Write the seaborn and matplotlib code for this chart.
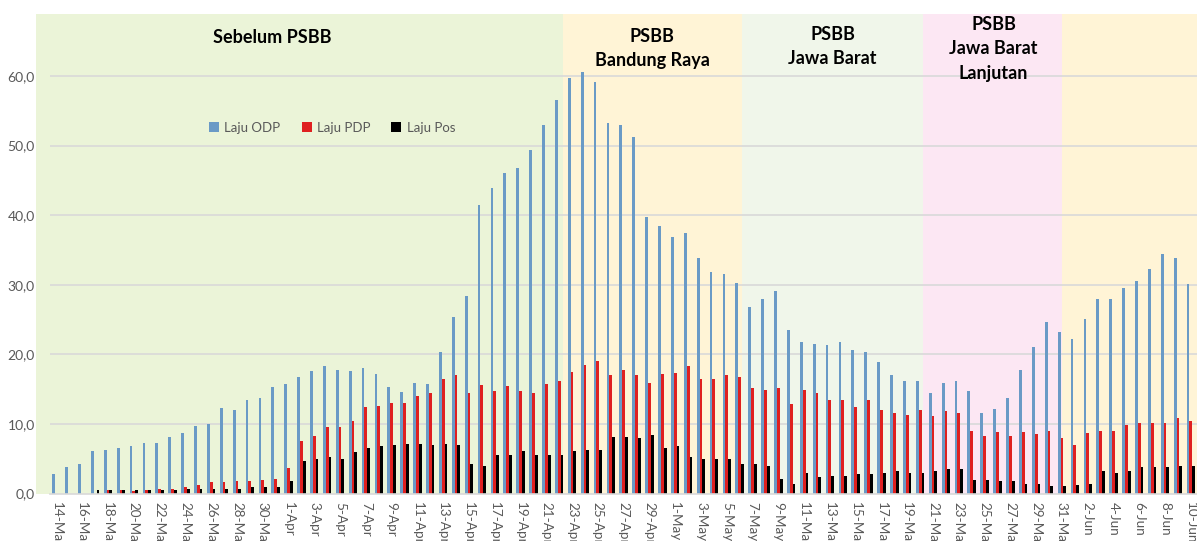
import pandas as pd
import matplotlib
matplotlib.use("Agg")
import matplotlib.pyplot as plt
import seaborn as sns

# tanggal 14 Mar - 10 Jun
months = [("Mar", 14, 31), ("Apr", 1, 30), ("May", 1, 31), ("Jun", 1, 10)]
dates = [f"{d}-{m}" for m, a, b in months for d in range(a, b + 1)]

laju_odp = [2.8, 3.8, 4.2, 6.1, 6.3, 6.6, 6.8, 7.3, 7.3, 8.1, 8.7, 9.7, 10.0, 12.3, 12.0, 13.5, 13.7, 15.3,
            15.7, 16.7, 17.6, 18.3, 17.8, 17.6, 18.0, 17.1, 15.3, 14.6, 15.9, 15.7, 20.3, 25.3, 28.4, 41.5,
            43.9, 46.0, 46.7, 49.3, 52.9, 56.5, 59.7, 60.5, 59.1, 53.3, 52.9, 51.2, 39.7, 38.5,
            36.9, 37.5, 33.9, 31.8, 31.5, 30.3, 26.8, 28.0, 29.1, 23.5, 21.8, 21.5, 21.3, 21.7, 20.6, 20.4,
            18.9, 17.0, 16.1, 16.1, 14.4, 15.9, 16.1, 14.75, 11.6, 12.1, 13.7, 17.8, 21.1, 24.7, 23.2,
            22.2, 25.1, 28.0, 27.9, 29.6, 30.6, 32.3, 34.4, 33.9, 30.1]
laju_pdp = [0, 0, 0, 0, 0.45, 0.45, 0.4, 0.45, 0.65, 0.65, 0.95, 1.25, 1.6, 1.6, 1.8, 1.8, 2.0, 2.15,
            3.6, 7.5, 8.3, 9.5, 9.5, 10.4, 12.5, 12.6, 13.0, 13.0, 14.0, 14.4, 16.4, 17.0, 14.4, 15.6,
            14.75, 15.4, 14.75, 14.4, 15.7, 16.1, 17.5, 18.5, 19.0, 17.0, 17.8, 17.0, 15.9, 17.1,
            17.3, 18.3, 16.4, 16.4, 17.0, 16.8, 15.1, 14.9, 15.1, 12.9, 14.9, 14.4, 13.4, 13.5, 12.5, 13.5,
            12.0, 11.6, 11.3, 12.0, 11.1, 11.8, 11.6, 9.0, 8.3, 8.8, 8.3, 8.8, 8.5, 9.0, 8.0,
            7.0, 8.7, 9.0, 9.0, 9.9, 10.2, 10.2, 10.2, 10.9, 10.4]
laju_pos = [0, 0, 0, 0.45, 0.45, 0.45, 0.45, 0.45, 0.45, 0.45, 0.7, 0.7, 0.7, 0.7, 0.7, 0.9, 0.9, 1.0,
            1.8, 4.6, 4.9, 5.2, 5.0, 5.9, 6.6, 6.8, 6.9, 7.1, 7.1, 6.9, 7.1, 6.9, 4.2, 4.0,
            5.5, 5.5, 6.1, 5.5, 5.5, 5.5, 6.1, 6.2, 6.2, 8.1, 8.1, 7.95, 8.4, 6.6,
            6.8, 5.2, 5.0, 5.0, 4.9, 4.3, 4.2, 4.0, 2.1, 1.4, 3.0, 2.3, 2.5, 2.5, 2.8, 2.8,
            3.0, 3.2, 3.0, 3.0, 3.2, 3.5, 3.5, 1.9, 1.9, 1.8, 1.8, 1.4, 1.4, 1.1, 1.1,
            1.25, 1.4, 3.3, 3.0, 3.3, 3.8, 3.8, 3.8, 4.0, 4.0]

series = ["Laju ODP", "Laju PDP", "Laju Pos"]
colors = ["#5B9BD5", "#FF0000", "#000000"]

# fase PSBB (batas dalam posisi kategori)
phase_labels = ["Sebelum PSBB", "PSBB\nBandung Raya", "PSBB\nJawa Barat", "PSBB\nJawa Barat\nLanjutan"]
phase_edges = [-1.59, 39.28, 53.16, 67.25, 77.98, 88.48]
phase_colors = ["#EBF4D8", "#FFF4D6", "#F0F6EA", "#FCE7F3", "#FFF4D6"]
phase_text_x = [16.7, 46.2, 60.2, 72.7]
phase_text_y = [65.5, 63.9, 64.2, 63.9]

df = pd.DataFrame({"tanggal": dates * 3,
                   "seri": [s for s in series for _ in dates],
                   "nilai": laju_odp + laju_pdp + laju_pos})

sns.set_style("white")
plt.rcParams["font.family"] = ["Lato", "DejaVu Sans"]

fig = plt.figure(figsize=(11.97, 5.41), dpi=100)
ax = fig.add_axes([36 / 1197, 1 - 493.5 / 541, 1 - 36 / 1197, 479.5 / 541])

for i in range(len(phase_colors)):
    ax.axvspan(phase_edges[i], phase_edges[i + 1], color=phase_colors[i], lw=0, zorder=0)

ax.hlines(range(10, 61, 10), -0.5, 88.5, color="#D9D9D9", lw=1.2, zorder=1)

sns.barplot(data=df, x="tanggal", y="nilai", hue="seri", order=dates, hue_order=series,
            palette=colors, width=0.65, linewidth=0, ax=ax, zorder=2)

ax.set_xlim(phase_edges[0], phase_edges[-1])
ax.set_ylim(0, 68.9)
ax.set_xlabel("")
ax.set_ylabel("")
for s in ["top", "right", "left"]:
    ax.spines[s].set_visible(False)
ax.spines["bottom"].set_bounds(-0.5, 88.5)
ax.spines["bottom"].set_color("#D9D9D9")
ax.spines["bottom"].set_linewidth(1.2)

ax.set_yticks(range(0, 61, 10))
ax.set_yticklabels([f"{v},0" for v in range(0, 61, 10)], fontsize=10, color="#595959")
ax.tick_params(axis="y", length=0, pad=1)

ax.set_xticks(range(0, len(dates), 2))
ax.set_xticklabels(dates[::2], rotation=270, fontsize=9.7, color="#595959", ha="center", va="top")
ax.set_xticks([i - 0.5 for i in range(0, len(dates), 2)], minor=True)
ax.tick_params(axis="x", which="major", length=0, pad=6)
ax.tick_params(axis="x", which="minor", length=3, color="#D9D9D9", width=1)

for lbl, x, y in zip(phase_labels, phase_text_x, phase_text_y):
    ax.text(x, y, lbl, ha="center", va="center", fontsize=13, fontweight="bold",
            color="black", linespacing=1.52, zorder=3)

ax.legend(loc="center left", bbox_to_anchor=(0.139, 0.763), ncol=3, frameon=False,
          fontsize=9.5, labelcolor="#595959", handlelength=0.75, handleheight=0.75,
          handletextpad=0.4, columnspacing=1.6)

fig.savefig("out.png", dpi=100)
